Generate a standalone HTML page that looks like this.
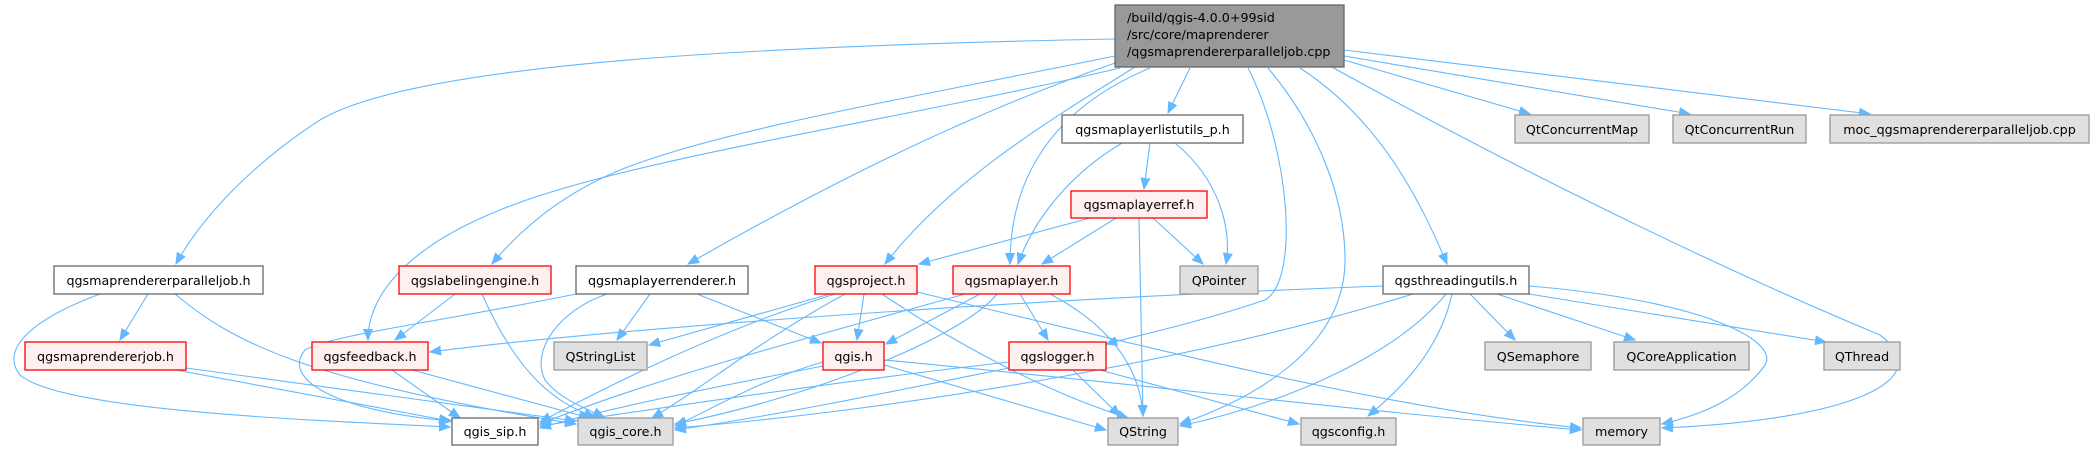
<!DOCTYPE html>
<html><head><meta charset="utf-8"><style>
html,body{margin:0;padding:0;background:#fff;}
svg{display:block;}
text{font-family:"DejaVu Sans","Liberation Sans",sans-serif;font-size:12.7px;fill:#000;}
.e{fill:none;stroke:#63b8ff;stroke-width:1.1;marker-end:url(#a);}
.w{fill:#fff;stroke:#666;stroke-width:1.3;}
.g{fill:#e0e0e0;stroke:#999;stroke-width:1.3;}
.r{fill:#fff0f0;stroke:#ff0000;stroke-width:1.3;}
</style></head><body>
<svg width="2094" height="451" viewBox="0 0 2094 451" xmlns="http://www.w3.org/2000/svg">
<defs><marker id="a" markerUnits="userSpaceOnUse" markerWidth="12" markerHeight="10" refX="11" refY="5" orient="auto"><path d="M0,0.5 L11,5 L0,9.5 z" fill="#63b8ff" stroke="#63b8ff"/></marker></defs>
<g>
<!-- main edges -->
<path class="e" d="M1115,39 C800,45 420,60 320,120 C250,165 200,220 176,264"/>
<path class="e" d="M1115,56 C900,100 720,130 620,170 C560,195 520,230 492,264"/>
<path class="e" d="M1118,62 C950,120 800,200 688,264"/>
<path class="e" d="M1120,68 C900,120 620,160 500,210 C400,250 368,300 368,340"/>
<path class="e" d="M1135,67 C1050,120 950,180 885,264"/>
<path class="e" d="M1150,68 C1050,110 1010,180 1010,264"/>
<path class="e" d="M1190,68 L1168,113"/>
<path class="e" d="M1248,68 C1290,150 1300,280 1265,300 C1200,322 1140,335 1106,344"/>
<path class="e" d="M1268,68 C1320,130 1345,200 1345,260 C1345,350 1250,400 1180,424"/>
<path class="e" d="M1300,68 C1380,120 1420,200 1447,264"/>
<path class="e" d="M1330,66 C1500,160 1700,260 1880,335 C1940,380 1850,420 1662,428"/>
<path class="e" d="M1344,60 L1530,114"/>
<path class="e" d="M1344,56 L1690,114"/>
<path class="e" d="M1344,50 L1870,114"/>
<!-- PJ / RJ -->
<path class="e" d="M148,294 L120,340"/>
<path class="e" d="M100,294 C30,320 0,350 20,375 C60,410 300,420 450,427"/>
<path class="e" d="M175,294 C230,340 300,380 576,424"/>
<path class="e" d="M176,370 L450,421"/>
<path class="e" d="M186,368 L576,421"/>
<!-- LE -->
<path class="e" d="M455,294 L395,340"/>
<path class="e" d="M482,294 C520,380 560,405 595,417"/>
<!-- LR -->
<path class="e" d="M576,294 C450,320 330,335 305,350 C280,380 340,412 452,421"/>
<path class="e" d="M650,294 L617,340"/>
<path class="e" d="M697,294 L821,343"/>
<path class="e" d="M607,294 C560,310 530,350 545,380 C560,400 590,410 604,417"/>
<!-- FB -->
<path class="e" d="M392,370 L460,418"/>
<path class="e" d="M412,370 L590,418"/>
<!-- PR -->
<path class="e" d="M830,294 L649,345"/>
<path class="e" d="M864,294 L857,340"/>
<path class="e" d="M835,294 C720,330 620,380 540,422"/>
<path class="e" d="M845,294 C760,340 700,390 652,418"/>
<path class="e" d="M882,294 C950,340 1040,390 1128,418"/>
<path class="e" d="M917,292 C1200,360 1400,410 1581,428"/>
<!-- ML -->
<path class="e" d="M980,294 L886,344"/>
<path class="e" d="M1020,294 L1048,340"/>
<path class="e" d="M1050,294 C1100,320 1140,360 1143,416"/>
<path class="e" d="M965,294 C800,340 650,380 540,424"/>
<path class="e" d="M997,294 C960,340 800,400 675,424"/>
<!-- LU / REF -->
<path class="e" d="M1122,143 C1060,180 1030,230 1018,264"/>
<path class="e" d="M1150,143 L1144,189"/>
<path class="e" d="M1175,143 C1220,180 1232,230 1226,264"/>
<path class="e" d="M1090,218 L919,264"/>
<path class="e" d="M1116,218 L1042,264"/>
<path class="e" d="M1153,218 L1203,264"/>
<path class="e" d="M1139,218 L1143,416"/>
<!-- QG -->
<path class="e" d="M823,366 C700,390 600,410 540,428"/>
<path class="e" d="M823,362 C760,380 710,410 675,426"/>
<path class="e" d="M884,365 L1106,430"/>
<path class="e" d="M884,360 C1100,380 1350,410 1581,430"/>
<!-- LOG -->
<path class="e" d="M1009,362 C850,380 680,405 540,426"/>
<path class="e" d="M1009,368 C900,390 780,415 675,430"/>
<path class="e" d="M1073,370 L1120,416"/>
<path class="e" d="M1100,370 L1299,424"/>
<!-- TU -->
<path class="e" d="M1383,286 C1000,300 600,330 430,352"/>
<path class="e" d="M1413,294 C1200,360 900,410 675,428"/>
<path class="e" d="M1446,294 C1400,350 1300,400 1180,426"/>
<path class="e" d="M1452,294 C1440,350 1400,390 1368,416"/>
<path class="e" d="M1470,294 L1515,340"/>
<path class="e" d="M1497,294 L1635,340"/>
<path class="e" d="M1529,294 L1826,342"/>
<path class="e" d="M1529,286 C1700,300 1780,340 1765,365 C1740,400 1700,415 1662,424"/>
</g>
<!-- nodes -->
<rect x="1115" y="5" width="229" height="62" fill="#999" stroke="#666" stroke-width="1.3"/>
<text x="1127" y="22">/build/qgis-4.0.0+99sid</text>
<text x="1127" y="39">/src/core/maprenderer</text>
<text x="1127" y="56">/qgsmaprendererparalleljob.cpp</text>

<rect class="w" x="1062" y="115" width="181" height="28"/><text x="1152.5" y="134" text-anchor="middle">qgsmaplayerlistutils_p.h</text>
<rect class="g" x="1515" y="115" width="134" height="28"/><text x="1582" y="134" text-anchor="middle">QtConcurrentMap</text>
<rect class="g" x="1673" y="115" width="133" height="28"/><text x="1739.5" y="134" text-anchor="middle">QtConcurrentRun</text>
<rect class="g" x="1830" y="115" width="259" height="28"/><text x="1959.5" y="134" text-anchor="middle">moc_qgsmaprendererparalleljob.cpp</text>
<rect class="r" x="1071" y="191" width="136" height="27"/><text x="1139" y="209" text-anchor="middle">qgsmaplayerref.h</text>

<rect class="w" x="54" y="266" width="209" height="28"/><text x="158.5" y="285" text-anchor="middle">qgsmaprendererparalleljob.h</text>
<rect class="r" x="399" y="266" width="152" height="28"/><text x="475" y="285" text-anchor="middle">qgslabelingengine.h</text>
<rect class="w" x="576" y="266" width="172" height="28"/><text x="662" y="285" text-anchor="middle">qgsmaplayerrenderer.h</text>
<rect class="r" x="815" y="266" width="102" height="28"/><text x="866" y="285" text-anchor="middle">qgsproject.h</text>
<rect class="r" x="953" y="266" width="117" height="28"/><text x="1011.5" y="285" text-anchor="middle">qgsmaplayer.h</text>
<rect class="g" x="1180" y="266" width="78" height="28"/><text x="1219" y="285" text-anchor="middle">QPointer</text>
<rect class="w" x="1383" y="266" width="146" height="28"/><text x="1456" y="285" text-anchor="middle">qgsthreadingutils.h</text>

<rect class="r" x="25" y="342" width="161" height="28"/><text x="105.5" y="361" text-anchor="middle">qgsmaprendererjob.h</text>
<rect class="r" x="312" y="342" width="116" height="28"/><text x="370" y="361" text-anchor="middle">qgsfeedback.h</text>
<rect class="g" x="554" y="342" width="93" height="28"/><text x="600.5" y="361" text-anchor="middle">QStringList</text>
<rect class="r" x="823" y="342" width="61" height="28"/><text x="853.5" y="361" text-anchor="middle">qgis.h</text>
<rect class="r" x="1009" y="342" width="97" height="28"/><text x="1057.5" y="361" text-anchor="middle">qgslogger.h</text>
<rect class="g" x="1485" y="342" width="106" height="28"/><text x="1538" y="361" text-anchor="middle">QSemaphore</text>
<rect class="g" x="1614" y="342" width="135" height="28"/><text x="1681.5" y="361" text-anchor="middle">QCoreApplication</text>
<rect class="g" x="1824" y="342" width="76" height="28"/><text x="1862" y="361" text-anchor="middle">QThread</text>

<rect class="w" x="452" y="418" width="86" height="27"/><text x="495" y="436" text-anchor="middle">qgis_sip.h</text>
<rect class="g" x="578" y="418" width="95" height="27"/><text x="625.5" y="436" text-anchor="middle">qgis_core.h</text>
<rect class="g" x="1108" y="418" width="70" height="27"/><text x="1143" y="436" text-anchor="middle">QString</text>
<rect class="g" x="1301" y="418" width="95" height="27"/><text x="1348.5" y="436" text-anchor="middle">qgsconfig.h</text>
<rect class="g" x="1583" y="418" width="77" height="27"/><text x="1621.5" y="436" text-anchor="middle">memory</text>
</svg>
</body></html>
